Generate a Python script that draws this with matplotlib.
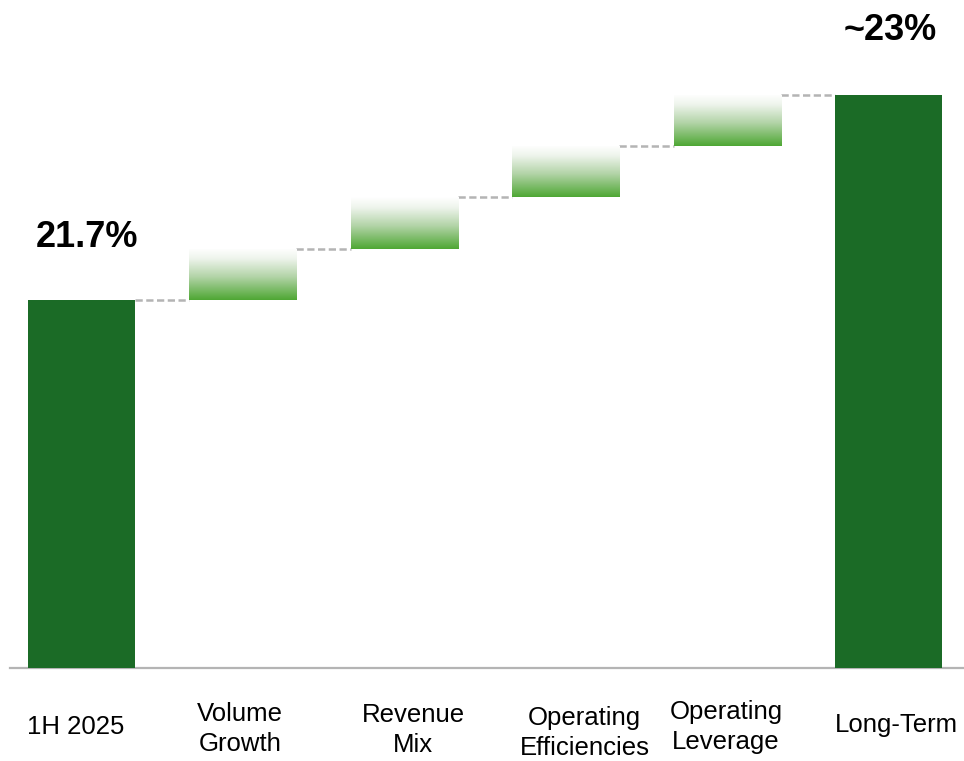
import numpy as np
import matplotlib.pyplot as plt
from matplotlib.colors import LinearSegmentedColormap

# Margin bridge data
categories = ['1H 2025', 'Volume\nGrowth', 'Revenue\nMix',
              'Operating\nEfficiencies', 'Operating\nLeverage', 'Long-Term']
start_value = 21.7
step_values = [0.325, 0.325, 0.325, 0.325]
end_value = 23.0
start_label = '21.7%'
end_label = '~23%'

plt.rcParams['font.family'] = ['Liberation Sans', 'DejaVu Sans']

fig = plt.figure(figsize=(9.64, 7.61), dpi=100)
ax = fig.add_axes([0, 93 / 761, 1, 668 / 761])

dark_green = '#1b6b26'
fade = LinearSegmentedColormap.from_list(
    'fade', [(0, '#ffffff'), (0.2, '#eef4ec'), (0.55, '#b3d4a8'), (1, '#4ea733')])
line_grey = '#b4b4b4'
width = 0.663
y_floor = 19.366

x = np.arange(len(categories))
levels = start_value + np.concatenate([[0], np.cumsum(step_values)])

# totals
ax.bar(x[0], start_value - y_floor, bottom=y_floor, width=width, color=dark_green, zorder=2)
ax.bar(x[-1], end_value - y_floor, bottom=y_floor, width=width, color=dark_green, zorder=2)

# floating steps with white -> green gradient
grad = np.linspace(0, 1, 256).reshape(-1, 1)
for i, d in enumerate(step_values):
    lo = levels[i]
    hi = levels[i + 1]
    bar = ax.bar(x[i + 1], d, bottom=lo, width=width, color='none', zorder=2)[0]
    im = ax.imshow(grad, cmap=fade, origin='upper', aspect='auto', zorder=2,
                   extent=(x[i + 1] - width / 2, x[i + 1] + width / 2, lo, hi))
    im.set_clip_path(bar)

# dashed connectors
for i in range(len(categories) - 1):
    ax.plot([x[i] + width / 2, x[i + 1] - width / 2], [levels[i], levels[i]],
            color=line_grey, lw=1.8, linestyle=(0, (2.9, 1.4)), zorder=1)

# baseline
ax.axhline(y_floor, xmin=10 / 964, xmax=1, color=line_grey, lw=1.6, clip_on=False, zorder=1)

# value labels
ax.annotate(start_label, xy=(x[0], start_value), xytext=(4, 38), textcoords='offset points',
            ha='center', va='baseline', fontsize=26, fontweight='bold')
ax.annotate(end_label, xy=(x[-1], end_value), xytext=(1, 39.5), textcoords='offset points',
            ha='center', va='baseline', fontsize=26, fontweight='bold')

# category labels
label_offsets = [(-4, -42.5), (-2, -44), (6.5, -44.6), (13.7, -47), (-0.7, -42.5), (5.4, -41)]
for xi, lab, (dx, dy) in zip(x, categories, label_offsets):
    ax.annotate(lab, xy=(xi, y_floor), xytext=(dx, dy), textcoords='offset points',
                ha='center', va='center', fontsize=18.5, linespacing=1.32,
                annotation_clip=False)

ax.set_xlim(-0.505, 5.468)
ax.set_ylim(y_floor, 23.6025)
ax.axis('off')

fig.savefig('out.png', dpi=100)
